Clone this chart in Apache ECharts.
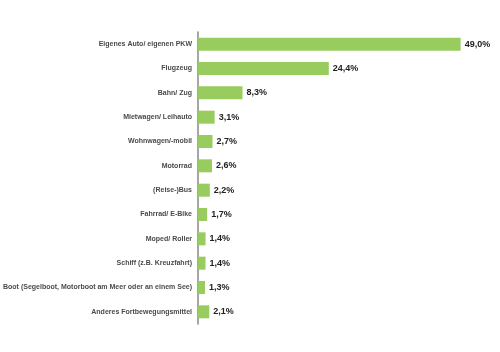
<!DOCTYPE html>
<html>
<head>
<meta charset="utf-8">
<script src="https://cdn.jsdelivr.net/npm/echarts@6/dist/echarts.min.js"></script>
<style>
  html, body { margin: 0; padding: 0; background: #fff; }
  #chart { width: 500px; height: 352px; }
</style>
</head>
<body>
<div id="chart"></div>
<script>
// Kategorien (von oben nach unten)
const categories = [
  "Eigenes Auto/ eigenen PKW",
  "Flugzeug",
  "Bahn/ Zug",
  "Mietwagen/ Leihauto",
  "Wohnwagen/-mobil",
  "Motorrad",
  "(Reise-)Bus",
  "Fahrrad/ E-Bike",
  "Moped/ Roller",
  "Schiff (z.B. Kreuzfahrt)",
  "Boot (Segelboot, Motorboot am Meer oder an einem See)",
  "Anderes Fortbewegungsmittel"
]
// Anteile in %
const values = [49.0, 24.4, 8.3, 3.1, 2.7, 2.6, 2.2, 1.7, 1.4, 1.4, 1.3, 2.1]

const chart = echarts.init(document.getElementById("chart"))
const option = {
  animation: false,
  grid: {
    left: 197,
    top: 32,
    width: 269,
    height: 292,
    containLabel: false,
  },
  xAxis: {
    type: "value",
    min: 0,
    max: 50,
    show: false,
  },
  yAxis: {
    type: "category",
    data: categories,
    inverse: true,
    axisLine: { show: true, lineStyle: { color: "#888", width: 1.5 } },
    axisTick: { show: false },
    axisLabel: {
      fontFamily: "Liberation Sans",
      fontSize: 7,
      fontWeight: "bold",
      color: "#4a4a4a",
      margin: 6,
    },
  },
  series: [
    {
      type: "bar",
      data: values,
      barWidth: 13,
      itemStyle: { color: "#98cc5e" },
      label: {
        show: true,
        position: "right",
        distance: 4,
        fontFamily: "Liberation Sans",
        fontSize: 9,
        fontWeight: "bold",
        color: "#222",
        formatter: p => p.value.toFixed(1).replace(".", ",") + "%",
      },
    },
  ],
}
chart.setOption(option)
</script>
</body>
</html>
